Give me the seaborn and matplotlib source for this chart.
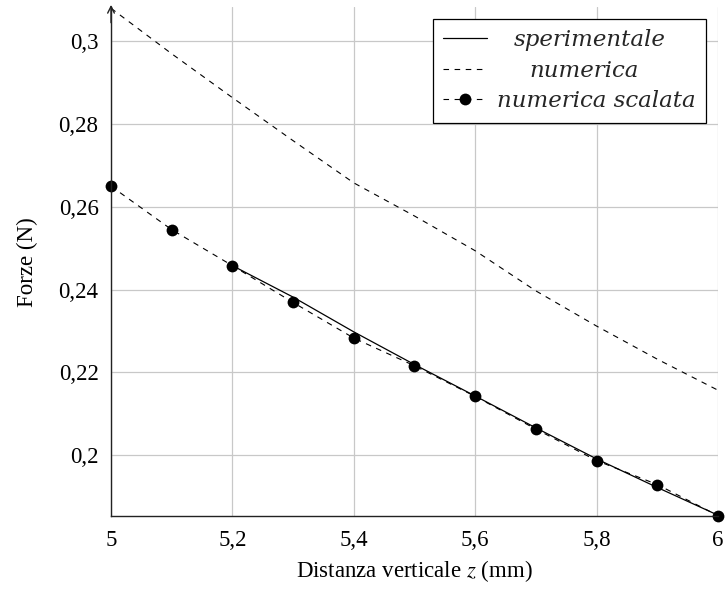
import matplotlib
matplotlib.use('Agg')
import matplotlib.pyplot as plt
import seaborn as sns
import pandas as pd
from matplotlib.ticker import FixedLocator, FuncFormatter

# valori
z_num = [5.0, 5.1, 5.2, 5.3, 5.4, 5.5, 5.6, 5.7, 5.8, 5.9, 6.0]
f_numerica = [0.3080, 0.2970, 0.2864, 0.2760, 0.2658, 0.2578, 0.2494, 0.2397, 0.2312, 0.2232, 0.2157]
f_scalata = [0.2650, 0.2545, 0.2458, 0.2369, 0.2283, 0.2216, 0.2142, 0.2063, 0.1987, 0.1929, 0.1854]

z_sper = [5.2, 5.3, 5.4, 5.5, 5.6, 5.7, 5.8, 5.9, 6.0]
f_sper = [0.2458, 0.2382, 0.2298, 0.2219, 0.2143, 0.2066, 0.1991, 0.1922, 0.1855]

x_ticks = [5.0, 5.2, 5.4, 5.6, 5.8, 6.0]
y_ticks = [0.20, 0.22, 0.24, 0.26, 0.28, 0.30]

df_sper = pd.DataFrame({'z': z_sper, 'F': f_sper})
df_num = pd.DataFrame({'z': z_num, 'F': f_numerica, 'S': f_scalata})

sns.set_theme(style="whitegrid")
plt.rcParams['font.family'] = ['Liberation Serif', 'DejaVu Serif']
plt.rcParams['mathtext.fontset'] = 'stix'

fig = plt.figure(figsize=(7.27, 5.90), dpi=100)
ax = fig.add_axes([0.1527, 0.1254, 0.8349, 0.8620])

sns.lineplot(data=df_sper, x='z', y='F', ax=ax, color='black', lw=0.9,
             label='sperimentale')
sns.lineplot(data=df_num, x='z', y='F', ax=ax, color='black', lw=0.8,
             linestyle=(0, (5, 5)), label='numerica')
sns.lineplot(data=df_num, x='z', y='S', ax=ax, color='black', lw=0.8,
             linestyle=(0, (5, 5)), marker='o', markersize=8.5,
             markeredgewidth=0, label='numerica scalata', clip_on=False)

ax.set_xlim(5.0, 6.0)
ax.set_ylim(0.1853, 0.3082)

comma = FuncFormatter(lambda v, p: ('%g' % round(v, 3)).replace('.', ','))
ax.xaxis.set_major_locator(FixedLocator(x_ticks))
ax.yaxis.set_major_locator(FixedLocator(y_ticks))
ax.xaxis.set_major_formatter(comma)
ax.yaxis.set_major_formatter(comma)
ax.tick_params(axis='both', labelsize=16.5, direction='out',
               length=4, width=0.8, color='#999999', labelcolor='black')
ax.tick_params(axis='x', pad=6)
ax.tick_params(axis='y', pad=5)

ax.grid(True, color='#c8c8c8', lw=0.9)
ax.set_facecolor('white')
for s in ['top', 'right']:
    ax.spines[s].set_visible(False)
for s in ['left', 'bottom']:
    ax.spines[s].set_color('#222222')
    ax.spines[s].set_linewidth(1.0)

# freccia in cima all'asse y
ax.annotate('', xy=(0, 1.005), xytext=(0, 0.97), xycoords='axes fraction',
            arrowprops=dict(arrowstyle='->', color='#222222', lw=1.0,
                            shrinkA=0, shrinkB=0))

ax.set_xlabel('Distanza verticale $z$ (mm)', fontsize=16.5, color='black', labelpad=5)
ax.set_ylabel('Forze (N)', fontsize=16.5, color='black', labelpad=15)

leg = ax.legend(loc='upper right', bbox_to_anchor=(0.980, 0.977), frameon=True,
                fancybox=False, edgecolor='black', framealpha=1,
                prop={'family': 'DejaVu Serif', 'style': 'italic', 'size': 16.5},
                handlelength=1.9, handletextpad=0.45, borderpad=0.45,
                labelspacing=0.37, borderaxespad=0)
leg.get_frame().set_linewidth(0.9)

# testo centrato come in pgfplots
fig.canvas.draw()
renderer = fig.canvas.get_renderer()
texts = leg.get_texts()
widths = [t.get_window_extent(renderer).width for t in texts]
wmax = max(widths)
for t, w in zip(texts, widths):
    t.set_position(((wmax - w) / 2 * 72 / fig.dpi, 0))

fig.savefig('out.png', dpi=100)
